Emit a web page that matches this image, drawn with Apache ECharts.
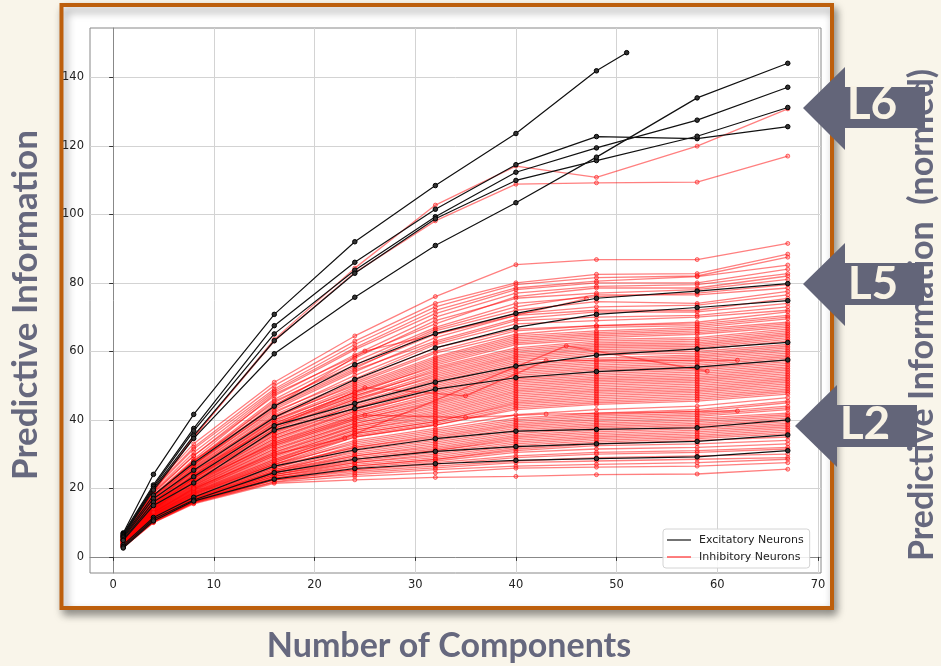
<!DOCTYPE html>
<html>
<head>
<meta charset="utf-8">
<script src="https://cdn.jsdelivr.net/npm/echarts@6/dist/echarts.min.js"></script>
<style>
html,body{margin:0;padding:0;background:#f9f5ea;}
#chart{width:941px;height:666px;}
</style>
</head>
<body>
<div id="chart"></div>
<script>
// ---------- data ----------
const xSteps = [1, 4, 8, 16, 24, 32, 40, 48, 58, 67];
const xTicks = [0, 10, 20, 30, 40, 50, 60, 70];
const yTicks = [0, 20, 40, 60, 80, 100, 120, 140];

// excitatory line that stops early (x values differ)
const excitatoryShortX = [1, 4, 8, 16, 24, 32, 40, 48, 51];
const excitatoryShortY = [7.0, 24.1, 41.6, 70.8, 92.0, 108.4, 123.6, 141.9, 147.2];

// excitatory lines on xSteps
const excitatory = [
  [6.8, 21.0, 37.5, 67.5, 86.0, 101.5, 114.5, 122.7, 122.1, 125.6],
  [6.5, 20.5, 36.8, 65.1, 83.7, 99.3, 112.3, 119.4, 127.5, 137.1],
  [6.3, 20.0, 35.4, 63.1, 82.8, 98.7, 109.9, 115.7, 122.8, 131.2],
  [6.0, 19.5, 34.6, 59.3, 75.8, 90.9, 103.4, 116.7, 134.0, 144.1],
  [5.8, 18.0, 27.4, 44.0, 56.1, 65.2, 71.1, 75.5, 77.6, 79.8],
  [5.5, 17.0, 25.3, 40.7, 51.8, 61.0, 67.0, 70.8, 72.8, 74.8],
  [5.0, 16.0, 23.4, 38.3, 44.8, 51.0, 55.7, 58.9, 60.7, 62.6],
  [4.8, 15.0, 21.6, 37.0, 43.3, 49.0, 52.3, 54.1, 55.4, 57.5],
  [3.5, 11.5, 17.4, 26.5, 31.2, 34.5, 36.7, 37.2, 37.7, 40.0],
  [3.0, 11.0, 16.6, 24.6, 28.5, 30.8, 32.2, 33.0, 33.7, 35.6],
  [2.6, 10.5, 16.3, 22.7, 25.8, 27.2, 28.2, 28.7, 29.2, 31.0]
];

// inhibitory lines on xSteps
const inhibitory = [
  [6.2, 19.0, 35.0, 63.5, 84.3, 102.7, 114.1, 110.8, 119.9, 130.8],
  [6.0, 19.0, 35.0, 63.0, 83.0, 98.1, 108.8, 109.2, 109.4, 117.0],
  [6.5, 20.5, 33.0, 51.0, 64.5, 76.0, 85.3, 86.8, 86.8, 91.5],
  [6.3, 20.0, 32.0, 50.0, 63.0, 74.0, 80.0, 82.5, 82.7, 88.4],
  [6.2, 19.6, 31.5, 49.0, 62.0, 73.0, 79.5, 81.5, 82.0, 87.5],
  [6.0, 19.0, 30.5, 48.5, 61.0, 72.0, 78.5, 80.5, 81.8, 85.2],
  [6.0, 18.5, 29.5, 48.0, 60.5, 71.0, 78.0, 80.0, 80.0, 84.0],
  [6.1, 18.8, 29.5, 47.0, 59.0, 70.0, 77.0, 79.0, 79.5, 82.7],
  [5.8, 18.0, 28.5, 47.5, 58.5, 68.0, 76.0, 78.5, 78.5, 82.0],
  [5.9, 18.0, 28.0, 46.0, 58.0, 69.0, 75.5, 77.0, 78.0, 81.0],
  [5.7, 17.5, 28.0, 45.0, 57.0, 67.0, 74.0, 76.0, 77.0, 79.5],
  [5.8, 17.8, 27.5, 45.5, 56.0, 66.5, 73.0, 76.5, 76.5, 78.5],
  [5.6, 17.2, 27.0, 44.0, 55.0, 66.0, 72.0, 74.5, 74.0, 77.5],
  [5.5, 17.0, 26.8, 44.5, 55.5, 65.0, 71.0, 73.0, 73.5, 76.5],
  [5.5, 17.5, 27.0, 43.0, 54.0, 64.0, 70.5, 72.0, 72.0, 75.5],
  [5.4, 16.8, 26.5, 43.5, 54.5, 63.0, 69.5, 71.5, 71.5, 74.0],
  [5.5, 16.5, 26.0, 42.0, 53.0, 62.5, 69.0, 70.0, 70.5, 73.0],
  [5.3, 16.5, 26.2, 42.5, 52.0, 62.0, 68.0, 69.0, 70.0, 72.0],
  [5.2, 16.0, 25.5, 41.5, 51.5, 61.0, 66.5, 67.5, 68.5, 71.5],
  [5.3, 16.2, 25.8, 41.0, 51.0, 60.0, 66.0, 67.5, 68.0, 70.5],
  [5.1, 16.0, 25.0, 40.5, 50.5, 59.5, 65.0, 67.0, 67.5, 70.0],
  [5.2, 15.8, 25.2, 41.0, 50.0, 58.5, 64.5, 66.0, 67.0, 69.5],
  [5.1, 15.5, 24.8, 40.0, 49.5, 58.0, 64.0, 65.5, 66.5, 68.5],
  [5.0, 15.6, 24.5, 39.5, 49.0, 57.5, 63.5, 65.0, 66.0, 68.0],
  [5.2, 15.4, 24.2, 40.0, 48.5, 57.0, 63.0, 64.5, 65.5, 67.5],
  [5.0, 15.2, 24.0, 39.0, 48.0, 56.5, 62.5, 64.0, 65.0, 67.0],
  [4.9, 15.0, 23.8, 38.5, 47.5, 56.0, 62.0, 63.5, 64.0, 66.5],
  [5.0, 15.3, 24.0, 39.0, 48.0, 55.5, 61.0, 63.0, 63.5, 66.0],
  [4.9, 15.0, 23.5, 38.0, 47.0, 55.0, 60.5, 62.5, 63.0, 65.5],
  [4.8, 14.8, 23.2, 37.5, 46.5, 54.5, 60.0, 62.0, 62.5, 65.0],
  [5.0, 15.0, 23.5, 38.5, 47.0, 54.0, 59.5, 61.5, 62.0, 64.5],
  [4.8, 14.6, 23.0, 37.0, 46.0, 53.5, 59.0, 61.0, 61.5, 64.0],
  [4.7, 14.5, 22.8, 36.5, 45.5, 53.0, 58.5, 60.5, 61.0, 63.5],
  [4.9, 14.7, 23.0, 37.5, 46.0, 52.5, 58.0, 60.0, 60.5, 63.0],
  [4.7, 14.4, 22.5, 36.0, 45.0, 52.0, 57.5, 59.5, 60.0, 62.0],
  [4.6, 14.2, 22.3, 35.5, 44.5, 51.5, 57.0, 59.0, 59.5, 61.5],
  [4.8, 14.5, 22.8, 36.5, 44.0, 51.0, 56.5, 58.0, 59.0, 61.0],
  [4.6, 14.1, 22.0, 35.0, 43.5, 50.5, 56.0, 57.5, 58.5, 60.5],
  [4.5, 14.0, 21.8, 34.5, 43.0, 50.0, 55.5, 57.0, 58.0, 60.0],
  [4.7, 14.3, 22.2, 35.5, 43.5, 49.5, 55.0, 56.5, 57.5, 59.5],
  [4.5, 13.9, 21.5, 34.0, 42.5, 49.0, 54.5, 56.0, 57.0, 59.0],
  [4.4, 13.8, 21.3, 33.5, 42.0, 48.5, 54.0, 55.5, 56.5, 58.5],
  [4.6, 14.0, 21.8, 34.5, 42.5, 48.0, 53.5, 55.0, 56.0, 58.0],
  [4.4, 13.6, 21.0, 33.0, 41.5, 47.5, 53.0, 54.5, 55.5, 57.5],
  [4.3, 13.5, 20.8, 32.5, 41.0, 47.0, 52.5, 54.0, 55.0, 57.0],
  [4.5, 13.8, 21.2, 33.5, 41.0, 46.5, 52.0, 53.5, 54.5, 56.5],
  [4.3, 13.4, 20.5, 32.0, 40.5, 46.0, 51.5, 53.0, 54.0, 56.0],
  [4.2, 13.2, 20.3, 31.5, 40.0, 45.5, 51.0, 52.5, 53.5, 55.5],
  [4.4, 13.5, 20.8, 32.5, 40.0, 45.0, 50.5, 52.0, 53.0, 55.0],
  [4.2, 13.1, 20.0, 31.0, 39.5, 44.5, 50.0, 51.5, 52.5, 54.5],
  [4.1, 13.0, 19.8, 30.5, 39.0, 44.0, 49.5, 51.0, 52.0, 54.0],
  [4.3, 13.3, 20.3, 31.5, 39.0, 43.5, 49.0, 50.5, 51.5, 53.5],
  [4.1, 12.9, 19.6, 30.0, 38.5, 43.0, 48.5, 50.0, 51.0, 53.0],
  [4.0, 12.8, 19.4, 29.5, 38.0, 42.5, 48.0, 49.5, 50.5, 52.5],
  [4.2, 13.0, 19.8, 30.5, 38.0, 42.0, 47.5, 49.0, 50.0, 52.0],
  [4.0, 12.6, 19.2, 29.0, 37.5, 41.5, 47.0, 48.5, 49.5, 51.5],
  [3.9, 12.5, 19.0, 28.5, 37.0, 41.0, 46.5, 48.0, 49.0, 51.0],
  [4.1, 12.7, 19.4, 29.5, 37.0, 40.5, 46.0, 47.5, 48.5, 50.5],
  [3.9, 12.4, 18.8, 28.0, 36.5, 40.0, 45.5, 47.0, 48.0, 50.0],
  [3.8, 12.3, 18.6, 27.5, 36.0, 39.5, 45.0, 46.5, 47.5, 49.5],
  [4.0, 12.5, 19.0, 28.5, 36.0, 39.5, 44.5, 46.0, 47.0, 49.0],
  [3.8, 12.2, 18.5, 27.5, 35.5, 39.0, 44.0, 45.5, 46.5, 48.5],
  [3.7, 12.0, 18.3, 27.0, 35.0, 38.5, 43.5, 45.0, 46.0, 48.0],
  [3.9, 12.3, 18.7, 28.0, 35.0, 38.5, 43.0, 44.5, 45.5, 47.5],
  [3.7, 12.0, 18.2, 27.0, 34.0, 37.5, 41.5, 43.0, 44.0, 46.5],
  [3.6, 11.8, 18.0, 26.5, 33.5, 37.0, 40.5, 42.0, 43.0, 45.5],
  [3.8, 12.1, 18.3, 27.0, 33.0, 36.5, 40.0, 41.5, 42.5, 45.0],
  [3.6, 11.7, 17.8, 26.0, 32.5, 36.0, 39.5, 41.0, 42.0, 44.0],
  [3.5, 11.6, 17.6, 26.0, 32.0, 35.5, 39.0, 40.5, 41.5, 43.5],
  [3.7, 11.9, 18.0, 26.5, 32.0, 35.0, 38.5, 40.0, 41.0, 43.0],
  [3.5, 11.5, 17.5, 25.5, 31.5, 34.5, 38.0, 39.5, 40.5, 42.0],
  [3.4, 11.4, 17.3, 25.0, 31.0, 34.0, 37.5, 39.0, 40.0, 41.5],
  [3.6, 11.6, 17.6, 25.5, 30.5, 33.5, 37.0, 38.5, 39.5, 41.0],
  [3.4, 11.3, 17.2, 25.0, 30.0, 33.0, 36.5, 38.0, 39.0, 40.5],
  [3.3, 11.2, 17.0, 24.5, 29.5, 32.5, 36.0, 37.5, 38.5, 40.0],
  [3.5, 11.4, 17.3, 25.0, 29.5, 32.0, 35.5, 37.0, 38.0, 39.5],
  [3.3, 11.1, 16.9, 24.5, 29.0, 31.5, 35.0, 36.5, 37.5, 39.0],
  [3.2, 11.0, 16.8, 24.0, 28.5, 31.0, 34.5, 36.0, 37.0, 38.5],
  [3.4, 11.2, 17.0, 24.5, 28.5, 31.0, 34.0, 35.5, 36.5, 38.0],
  [3.2, 10.9, 16.7, 24.0, 28.0, 30.5, 33.5, 35.0, 36.0, 37.5],
  [3.1, 10.8, 16.5, 23.5, 27.5, 30.0, 33.0, 34.5, 35.5, 37.0],
  [3.3, 11.0, 16.8, 24.0, 27.5, 29.5, 32.5, 34.0, 35.0, 36.5],
  [3.1, 10.7, 16.4, 23.5, 27.0, 29.0, 32.0, 33.5, 34.5, 36.0],
  [3.0, 10.6, 16.3, 23.0, 26.5, 28.5, 31.5, 33.0, 34.0, 35.0],
  [3.2, 10.8, 16.5, 23.5, 26.5, 28.5, 31.0, 32.5, 33.0, 34.0],
  [3.0, 10.5, 16.2, 23.0, 26.0, 28.0, 30.5, 31.5, 32.0, 33.0],
  [2.9, 10.4, 16.0, 22.5, 25.5, 27.5, 29.5, 30.5, 31.0, 32.0],
  [3.1, 10.6, 16.3, 23.0, 25.5, 27.0, 29.0, 30.0, 30.5, 31.5],
  [2.9, 10.3, 15.9, 22.5, 25.0, 26.5, 28.0, 29.0, 29.5, 30.0],
  [2.8, 10.2, 15.8, 22.0, 24.5, 26.0, 27.5, 28.0, 28.5, 29.0],
  [3.0, 10.4, 16.0, 22.5, 24.0, 25.5, 26.5, 27.0, 27.5, 28.5],
  [2.8, 10.1, 15.7, 21.8, 23.5, 24.5, 25.9, 26.2, 26.5, 27.5],
  [2.7, 10.0, 15.5, 21.5, 22.5, 23.2, 23.5, 24.0, 24.2, 25.6]
];

// a few inhibitory lines sampled at other x values
const inhibitoryOddX = [
  [1, 4, 8, 16, 25, 35, 43, 62],
  [1, 4, 8, 16, 25, 35, 43, 62],
  [1, 4, 8, 16, 25, 47],
  [1, 4, 8, 16, 23, 45, 59]
];
const inhibitoryOddY = [
  [4.5, 14.0, 22.0, 33.0, 41.4, 40.7, 41.7, 42.6],
  [5.2, 16.0, 25.0, 38.0, 49.4, 47.0, 57.3, 57.4],
  [5.6, 17.5, 28.0, 44.0, 60.1, 75.4],
  [4.2, 13.0, 20.0, 30.0, 34.7, 61.6, 54.2]
];

// ---------- build ----------
const chart = echarts.init(document.getElementById('chart'), null, {renderer: 'canvas'});
const series = [];
const redLine = {color: 'rgba(255,0,0,0.5)', width: 1.3};
const redItem = {color: 'rgba(255,60,60,0.35)', borderColor: 'rgba(255,0,0,0.6)', borderWidth: 0.9};
function addRed(data) {
  series.push({
    name: 'Inhibitory Neurons', type: 'line', data: data, z: 2,
    symbol: 'circle', symbolSize: 4, showSymbol: true,
    lineStyle: redLine, itemStyle: redItem, silent: true, animation: false
  });
}
inhibitory.forEach(row => addRed(xSteps.map((x, i) => [x, row[i]])));
inhibitoryOddX.forEach((xs, k) => addRed(xs.map((x, i) => [x, inhibitoryOddY[k][i]])));

function addBlack(data) {
  series.push({
    name: 'Excitatory Neurons', type: 'line', data: data, z: 5,
    symbol: 'circle', symbolSize: 4.5, showSymbol: true,
    lineStyle: {color: '#111', width: 1.2},
    itemStyle: {color: '#333', borderColor: '#000', borderWidth: 1},
    silent: true, animation: false
  });
}
addBlack(excitatoryShortX.map((x, i) => [x, excitatoryShortY[i]]));
excitatory.forEach(row => addBlack(xSteps.map((x, i) => [x, row[i]])));

const tickFont = {fontFamily: 'DejaVu Sans', fontSize: 11.5, color: '#222'};
const titleColor = '#66687e';
const arrowColor = '#636579';
const creamText = '#f8f2e4';

function arrow(pts) {
  return {type: 'polygon', z: 100, shape: {points: pts}, style: {fill: arrowColor}, silent: true};
}
function label(txt, x, y, size) {
  return {type: 'text', z: 101, x: x, y: y, silent: true,
    style: {text: txt, textAlign: 'center', textVerticalAlign: 'middle',
      font: 'bold ' + size + 'px Lato', fill: creamText}};
}

const option = {
  backgroundColor: '#f9f5ea',
  animation: false,
  grid: {left: 90, right: 120, top: 28, bottom: 93, show: true,
    backgroundColor: '#ffffff', borderColor: '#888', borderWidth: 1},
  xAxis: {
    type: 'value', min: -2.3, max: 70.3,
    axisLine: {show: true, lineStyle: {color: '#888', width: 1}},
    axisTick: {show: true, customValues: xTicks, length: 4, lineStyle: {color: '#333'}},
    axisLabel: {customValues: xTicks, margin: 6, ...tickFont},
    splitLine: {show: true, lineStyle: {color: '#d3d3d3', width: 1}}
  },
  yAxis: {
    type: 'value', min: -4.7, max: 154.4,
    axisLine: {show: true, lineStyle: {color: '#888', width: 1}},
    axisTick: {show: true, customValues: yTicks, length: 4, lineStyle: {color: '#333'}},
    axisLabel: {customValues: yTicks, margin: 6, ...tickFont},
    splitLine: {show: true, lineStyle: {color: '#d3d3d3', width: 1}}
  },
  legend: {
    show: true, orient: 'vertical', left: 663, top: 529,
    data: [
      {name: 'Excitatory Neurons', icon: 'rect', itemStyle: {color: '#444', borderWidth: 0}},
      {name: 'Inhibitory Neurons', icon: 'rect', itemStyle: {color: '#ff5555', borderWidth: 0}}
    ],
    itemStyle: {borderWidth: 0},
    lineStyle: {width: 0},
    itemWidth: 24, itemHeight: 1.5, itemGap: 3,
    padding: [4, 6, 4, 4],
    backgroundColor: 'rgba(255,255,255,0.85)', borderColor: '#d4d4d4', borderWidth: 1, borderRadius: 3,
    textStyle: {fontFamily: 'DejaVu Sans', fontSize: 11, color: '#222', lineHeight: 14, padding: [0, 0, 0, 3]},
    selectedMode: false, z: 20
  },
  graphic: [
    {type: 'rect', z: -1, silent: true,
      shape: {x: 61.5, y: 5, width: 770.5, height: 603},
      style: {fill: '#ffffff', stroke: '#bd5f0c', lineWidth: 4,
        shadowBlur: 8, shadowOffsetX: 3, shadowOffsetY: 5, shadowColor: 'rgba(0,0,0,0.4)'}},
    {type: 'text', z: 50, x: 26, y: 305, rotation: Math.PI / 2, silent: true,
      style: {text: 'Predictive Information', textAlign: 'center', textVerticalAlign: 'middle',
        font: 'bold 35px Lato', fill: titleColor}},
    {type: 'text', z: 50, x: 449, y: 646, silent: true,
      style: {text: 'Number of Components', textAlign: 'center', textVerticalAlign: 'middle',
        font: 'bold 34px Lato', fill: titleColor}},
    {type: 'text', z: 50, x: 922, y: 315, rotation: Math.PI / 2, silent: true,
      style: {text: 'Predictive Information  (normed)', textAlign: 'center', textVerticalAlign: 'middle',
        font: 'bold 34px Lato', fill: titleColor}},
    arrow([[803, 108], [845, 67], [845, 87], [925, 87], [925, 128], [845, 128], [845, 150]]),
    arrow([[803, 284], [845, 243], [845, 263], [924, 263], [924, 305], [845, 305], [845, 326]]),
    arrow([[795, 426], [837, 385], [837, 405], [917, 405], [917, 447], [837, 447], [837, 467]]),
    label('L6', 872, 104, 46),
    label('L5', 873, 284, 46),
    label('L2', 865, 424, 46)
  ],
  series: series
};
chart.setOption(option);
</script>
</body>
</html>
